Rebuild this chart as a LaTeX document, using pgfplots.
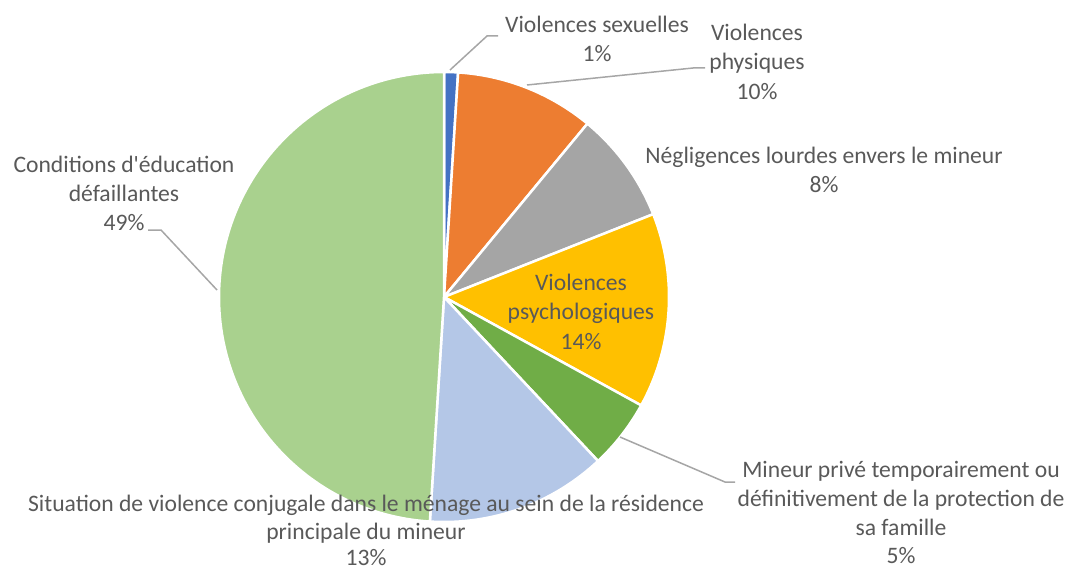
\documentclass[border=0pt]{standalone}
\usepackage{pgfplots}
\pgfplotsset{compat=1.18}
\usepackage{fontspec}
\setmainfont{Carlito}[Ligatures=TeXOff]
\definecolor{cSex}{HTML}{4472C4}
\definecolor{cPhy}{HTML}{ED7D31}
\definecolor{cNeg}{HTML}{A5A5A5}
\definecolor{cPsy}{HTML}{FFC000}
\definecolor{cPri}{HTML}{70AD47}
\definecolor{cCon}{HTML}{B4C7E7}
\definecolor{cEdu}{HTML}{A9D18E}
\definecolor{txt}{HTML}{595959}
\definecolor{lead}{HTML}{A6A6A6}
% slice: start (percent), value (percent), colour
\newcommand\slice[3]{%
  \pgfmathsetmacro\angA{90-3.6*#1}%
  \pgfmathsetmacro\angB{90-3.6*(#1+#2)}%
  \edef\tmp{\noexpand\fill[#3, draw=white, line width=2.5bp, line join=round]
    (axis cs:444,297) -- ++(\angA:225bp) arc[start angle=\angA, end angle=\angB, radius=225bp] -- cycle;}%
  \tmp}
\begin{document}
\begin{tikzpicture}[lab/.style={anchor=base, inner sep=0pt, text=txt, font=\fontsize{23.7}{29}\selectfont}]
\begin{axis}[width=1077bp, height=569bp, scale only axis,
  xmin=0, xmax=1077, ymin=0, ymax=569, y dir=reverse,
  hide axis, clip=false]
\gdef\cum{0}
\foreach \v/\c in {1/cSex, 10/cPhy, 8/cNeg, 14/cPsy, 5/cPri, 13/cCon, 49/cEdu}{%
  \slice{\cum}{\v}{\c}%
  \pgfmathsetmacro\newcum{\cum+\v}%
  \xdef\cum{\newcum}%
}
% leader lines
\draw[lead, line width=1.5bp] (axis cs:450,70) -- (axis cs:487,36) -- (axis cs:498,36);
\draw[lead, line width=1.5bp] (axis cs:527,85) -- (axis cs:693,68) -- (axis cs:705,68);
\draw[lead, line width=1.5bp] (axis cs:217,290) -- (axis cs:161,230) -- (axis cs:148,230);
\draw[lead, line width=1.5bp] (axis cs:620,437) -- (axis cs:725,482) -- (axis cs:735,482);
% labels
\node[lab] at (axis cs:597,33) {Violences sexuelles};
\node[lab] at (axis cs:597,62) {1\%};
\node[lab] at (axis cs:757,41) {Violences};
\node[lab] at (axis cs:757,70) {physiques};
\node[lab] at (axis cs:757,99) {10\%};
\node[lab] at (axis cs:824,163) {Négligences lourdes envers le mineur};
\node[lab] at (axis cs:824,192) {8\%};
\node[lab] at (axis cs:581,290) {Violences};
\node[lab] at (axis cs:581,319) {psychologiques};
\node[lab] at (axis cs:581,349) {14\%};
\node[lab] at (axis cs:124,172) {Conditions d'éducation};
\node[lab] at (axis cs:124,201) {défaillantes};
\node[lab] at (axis cs:124,230) {49\%};
\node[lab] at (axis cs:366,511) {Situation de violence conjugale dans le ménage au sein de la résidence};
\node[lab] at (axis cs:366,539) {principale du mineur};
\node[lab] at (axis cs:366,565) {13\%};
\node[lab] at (axis cs:901,477) {Mineur privé temporairement ou};
\node[lab] at (axis cs:901,506) {définitivement de la protection de};
\node[lab] at (axis cs:901,535) {sa famille};
\node[lab] at (axis cs:901,563) {5\%};
\end{axis}
\pgfresetboundingbox
\useasboundingbox (current axis.south west) rectangle (current axis.north east);
\end{tikzpicture}
\end{document}
